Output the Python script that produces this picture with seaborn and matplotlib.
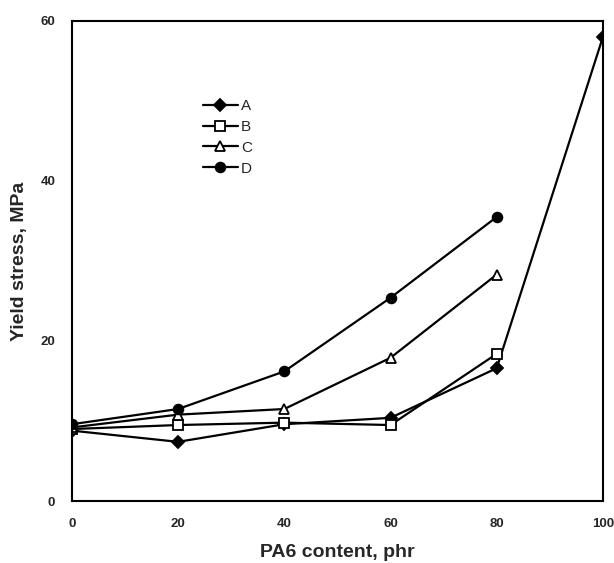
import numpy as np
import pandas as pd
import seaborn as sns
import matplotlib
matplotlib.use("Agg")
import matplotlib.pyplot as plt

sns.set_style("white")
plt.rcParams['font.family'] = ['Liberation Sans', 'DejaVu Sans']

# PA6 content, phr
pa6 = [0, 20, 40, 60, 80, 100]
# yield stress, MPa
ys_a = [8.8, 7.4, 9.6, 10.4, 16.6, 58.0]
ys_b = [9.0, 9.5, 9.8, 9.5, 18.4]
ys_c = [9.2, 10.8, 11.5, 17.9, 28.3]
ys_d = [9.6, 11.5, 16.2, 25.4, 35.5]
series = ['A', 'B', 'C', 'D']

rows = []
for name, vals in zip(series, [ys_a, ys_b, ys_c, ys_d]):
    for x, y in zip(pa6, vals):
        rows.append((x, y, name))
df = pd.DataFrame(rows, columns=['pa6', 'ys', 'sample'])

fig = plt.figure(figsize=(6.14, 5.63), dpi=100)
ax = fig.add_axes([0.117, 0.110, 0.865, 0.853])

markers = {'A': 'D', 'B': 's', 'C': '^', 'D': 'o'}
sns.lineplot(data=df, x='pa6', y='ys', style='sample', markers=markers,
             dashes=False, color='black', linewidth=1.6, markersize=7,
             markeredgecolor='black', markeredgewidth=1.3, ax=ax, legend=False)

# open symbols for B and C
for line, name in zip(ax.get_lines(), series):
    if name in ('B', 'C'):
        line.set_markerfacecolor('white')
    else:
        line.set_markerfacecolor('black')
    if name == 'A':
        line.set_markersize(6)

handles = [plt.Line2D([], [], color='black', lw=1.6, marker=markers[s], markersize=6 if s == 'A' else 7,
                      markerfacecolor='white' if s in ('B', 'C') else 'black',
                      markeredgecolor='black', markeredgewidth=1.3) for s in series]
leg = ax.legend(handles, series, loc='upper left', bbox_to_anchor=(0.235, 0.85), frameon=False,
                handlelength=2.3, handletextpad=0.2, labelspacing=0.45, fontsize=11,
                borderaxespad=0)

ax.set_xlim(0, 100)
ax.set_ylim(0, 60)
ax.set_xticks([0, 20, 40, 60, 80, 100])
ax.set_yticks([0, 20, 40, 60])
ax.tick_params(length=0, pad=12, labelsize=9.5)
for t in ax.get_xticklabels() + ax.get_yticklabels():
    t.set_fontweight('bold')
for sp in ax.spines.values():
    sp.set_linewidth(1.5)
    sp.set_color('black')
ax.set_xlabel('PA6 content, phr', fontsize=14, fontweight='bold', labelpad=10)
ax.set_ylabel('Yield stress, MPa', fontsize=14, fontweight='bold', labelpad=9)

fig.savefig('out.png', dpi=100)
